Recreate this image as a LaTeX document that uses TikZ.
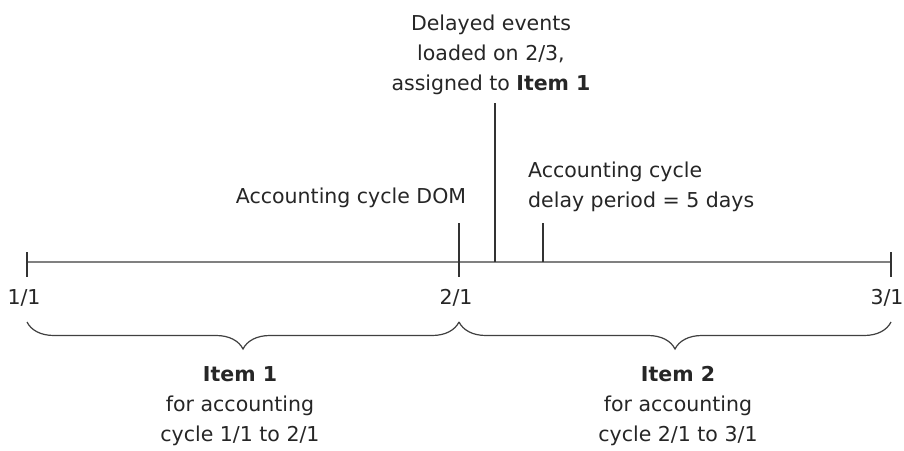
\documentclass[tikz,border=0pt]{standalone}
\usepackage{fontspec}
\setmainfont{DejaVu Sans}
\usetikzlibrary{decorations.pathreplacing}
\begin{document}
\begin{tikzpicture}[x=1pt,y=-1pt,
  lbl/.style={font=\fontsize{20.5}{30}\selectfont, inner sep=0pt, align=center, text=black!85},
  axisline/.style={draw=black!50, line width=2.5pt},
  tickline/.style={draw=black!80, line width=1.5pt},
  bracestyle/.style={decorate, decoration={brace, mirror, amplitude=27pt, aspect=0.5}, draw=black!75, line width=1.2pt}]
\useasboundingbox (0,0) rectangle (904,450);
\fill[white] (0,0) rectangle (904,450);
% axis
\coordinate (a0) at (27,262);
\coordinate (a1) at (891,262);
\draw[axisline] (a0) -- (a1);
% ticks
\coordinate (t1a) at (27,252);  \coordinate (t1b) at (27,277);
\coordinate (t2a) at (459,223); \coordinate (t2b) at (459,277);
\coordinate (t3a) at (495,103); \coordinate (t3b) at (495,262);
\coordinate (t4a) at (543,223); \coordinate (t4b) at (543,262);
\coordinate (t5a) at (891,252); \coordinate (t5b) at (891,277);
\draw[tickline] (t1a) -- (t1b);
\draw[tickline] (t2a) -- (t2b);
\draw[tickline] (t3a) -- (t3b);
\draw[tickline] (t4a) -- (t4b);
\draw[tickline] (t5a) -- (t5b);
% dates
\node[lbl] (d1) at (24,298) {1/1};
\node[lbl] (d2) at (456,298) {2/1};
\node[lbl] (d3) at (887,298) {3/1};
% braces
\coordinate (b0) at (27,322);
\coordinate (b1) at (459,322);
\coordinate (b2) at (891,322);
\draw[bracestyle] (b0) -- (b1);
\draw[bracestyle] (b1) -- (b2);
% top labels
\node[lbl] (delayed) at (491,55) {Delayed events\\loaded on 2/3,\\assigned to \textbf{Item 1}};
\node[lbl] (dom) at (351,198) {Accounting cycle DOM};
\node[lbl, align=left, anchor=west] (delay) at (528,187) {Accounting cycle\\delay period = 5 days};
% items
\node[lbl] (item1) at (240,406) {\textbf{Item 1}\\for accounting\\cycle 1/1 to 2/1};
\node[lbl] (item2) at (678,406) {\textbf{Item 2}\\for accounting\\cycle 2/1 to 3/1};
\end{tikzpicture}
\end{document}
